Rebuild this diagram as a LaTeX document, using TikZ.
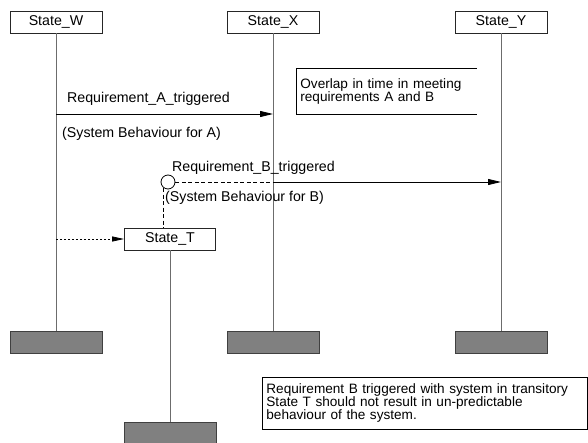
\documentclass[tikz,border=0pt]{standalone}
\usepackage{fontspec}
\setmainfont{Liberation Sans}
\usetikzlibrary{arrows.meta,calc}
\tikzset{
>={Triangle[length=13pt,width=6pt]},
stato/.style={draw=black!85,fill=white,minimum width=92pt,minimum height=22pt,inner sep=0pt,line width=0.8pt},
fine/.style={draw=black!75,fill=gray,minimum width=92pt,minimum height=22pt,line width=0.8pt},
vita/.style={draw=gray!85!black,line width=1pt},
freccia/.style={->,line width=0.8pt},
tratteggio/.style={dash pattern=on 4pt off 2.5pt,line width=0.8pt},
punteggio/.style={dash pattern=on 2pt off 2pt,line width=0.8pt},
etichetta/.style={inner sep=1pt,anchor=west},
nota/.style={anchor=north west,align=left,inner sep=4pt,line width=0.8pt,font=\fontsize{13.6}{13}\selectfont}}

\begin{document}
\begin{tikzpicture}[x=1pt,y=-1pt,font=\fontsize{14.2}{13}\selectfont]
\useasboundingbox (0,0) rectangle (588,443);

\node[stato] (W) at (56,22) {State\_W};
\node[stato] (X) at (273,22) {State\_X};
\node[stato] (Y) at (501,22) {State\_Y};
\node[stato,minimum width=91pt] (T) at (170,239) {State\_T};

\node[fine] (Wf) at (56,342) {};
\node[fine] (Xf) at (273,342) {};
\node[fine] (Yf) at (501,342) {};
\node[fine] (Tf) at (170,433) {};

\draw[vita] (W) -- (Wf);
\draw[vita] (X) -- (Xf);
\draw[vita] (Y) -- (Yf);
\draw[vita] (T) -- (Tf);

% requirement A
\coordinate (a1) at (56,114);
\coordinate (a2) at (273,114);
\draw[freccia] (a1) -- (a2);
\node[etichetta] (la) at (66,99) {Requirement\_A\_triggered};
\node[etichetta] (sa) at (61,134) {(System Behaviour for A)};

% requirement B
\node[draw,circle,minimum size=14pt,inner sep=0pt,line width=0.8pt] (c) at (168,182) {};
\coordinate (b1) at (273,182);
\coordinate (b2) at (501,182);
\draw[tratteggio] (c) -- (b1);
\draw[freccia] (b1) -- (b2);
\node[etichetta] (lb) at (171,168) {Requirement\_B\_triggered};
\node[etichetta] (sb) at (164,198) {(System Behaviour for B)};
\draw[tratteggio] (c.-125) -- (c.-125 |- T.north);

\coordinate (w3) at (56,239);
\draw[punteggio,-{Triangle[length=12pt,width=5pt]}] (w3) -- (T.west);

% notes
\node[nota,text width=172pt,minimum height=46pt] (n1) at (296,68) {Overlap in time in meeting\\requirements A and B};
\draw[line width=0.8pt] (n1.north east) -- (n1.north west) -- (n1.south west) -- (n1.south east);
\node[nota,draw,text width=317pt,minimum height=52pt] (n2) at (262,377) {Requirement B triggered with system in transitory\\State T should not result in un-predictable\\behaviour of the system.};

\end{tikzpicture}
\end{document}
